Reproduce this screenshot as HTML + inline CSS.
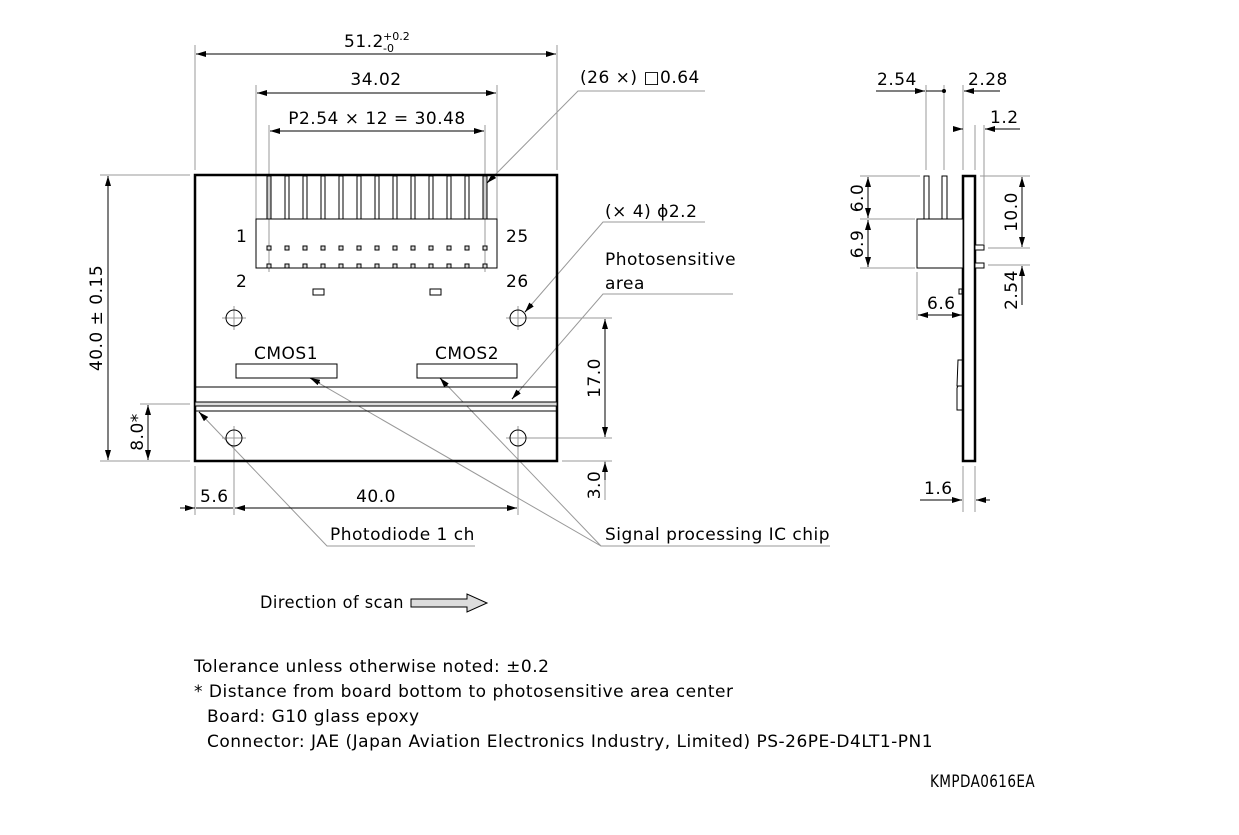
<!DOCTYPE html>
<html><head><meta charset="utf-8"><style>
html,body{margin:0;padding:0;background:#fff;}
svg{display:block;font-family:"DejaVu Sans","Liberation Sans",sans-serif;}
text{font-size:17px;fill:#000;letter-spacing:0.5px;}
</style></head><body>
<svg width="1239" height="835" viewBox="0 0 1239 835" xmlns="http://www.w3.org/2000/svg">
<defs>
<marker id="a" viewBox="0 0 10 6" refX="10" refY="3" markerWidth="10" markerHeight="6" orient="auto-start-reverse" markerUnits="userSpaceOnUse"><path d="M0,0 L10,3 L0,6 z" fill="#000"/></marker>
</defs>
<g stroke="#999" stroke-width="1" fill="none">
<line x1="195" y1="45" x2="195" y2="170"/><line x1="557" y1="45" x2="557" y2="170"/>
<line x1="256" y1="85" x2="256" y2="219"/><line x1="497" y1="85" x2="497" y2="219"/>
<line x1="269" y1="125" x2="269" y2="272"/><line x1="485" y1="125" x2="485" y2="272"/>
<line x1="100" y1="175" x2="190" y2="175"/><line x1="100" y1="461" x2="190" y2="461"/>
<line x1="140" y1="404" x2="190" y2="404"/>
<line x1="195" y1="466" x2="195" y2="515"/><line x1="234" y1="430" x2="234" y2="515"/><line x1="518" y1="430" x2="518" y2="515"/>
<line x1="526" y1="318" x2="612" y2="318"/><line x1="526" y1="438" x2="612" y2="438"/><line x1="562" y1="461" x2="612" y2="461"/>
<line x1="605" y1="461" x2="605" y2="500"/>
<line x1="222" y1="318" x2="246" y2="318"/><line x1="234" y1="306" x2="234" y2="330"/>
<line x1="506" y1="318" x2="530" y2="318"/><line x1="518" y1="306" x2="518" y2="330"/>
<line x1="222" y1="438" x2="246" y2="438"/><line x1="234" y1="426" x2="234" y2="450"/>
<line x1="506" y1="438" x2="530" y2="438"/><line x1="518" y1="426" x2="518" y2="450"/>
<polyline points="705,91 578,91 487,183"/>
<polyline points="705,222 603,222 525,312"/>
<polyline points="733,294 603,294 512,399"/>
<polyline points="475,546 327,546 199,412"/>
<polyline points="830,546 601,546 310,378"/>
<line x1="601" y1="546" x2="440" y2="378"/>
<line x1="926" y1="85" x2="926" y2="170"/><line x1="944" y1="85" x2="944" y2="170"/><line x1="963" y1="85" x2="963" y2="170"/>
<line x1="975" y1="125" x2="975" y2="170"/><line x1="984" y1="125" x2="984" y2="244"/>
<line x1="860" y1="176" x2="920" y2="176"/><line x1="860" y1="219" x2="915" y2="219"/><line x1="860" y1="268" x2="915" y2="268"/>
<line x1="980" y1="176" x2="1030" y2="176"/><line x1="988" y1="248" x2="1030" y2="248"/><line x1="988" y1="265" x2="1030" y2="265"/>
<line x1="917" y1="272" x2="917" y2="320"/>
<line x1="963" y1="466" x2="963" y2="512"/><line x1="975" y1="466" x2="975" y2="512"/>
</g>
<g stroke="#000" stroke-width="1" fill="none">
<line x1="196" y1="54" x2="556" y2="54" marker-start="url(#a)" marker-end="url(#a)"/>
<line x1="257" y1="93" x2="496" y2="93" marker-start="url(#a)" marker-end="url(#a)"/>
<line x1="270" y1="131" x2="484" y2="131" marker-start="url(#a)" marker-end="url(#a)"/>
<line x1="108" y1="176" x2="108" y2="460" marker-start="url(#a)" marker-end="url(#a)"/>
<line x1="148" y1="405" x2="148" y2="460" marker-start="url(#a)" marker-end="url(#a)"/>
<line x1="180" y1="508" x2="195" y2="508" marker-end="url(#a)"/>
<line x1="196" y1="508" x2="233" y2="508"/>
<line x1="235" y1="508" x2="517" y2="508" marker-start="url(#a)" marker-end="url(#a)"/>
<line x1="605" y1="319" x2="605" y2="437" marker-start="url(#a)" marker-end="url(#a)"/>
<line x1="605" y1="480" x2="605" y2="462" marker-end="url(#a)"/>
<line x1="876" y1="91" x2="925" y2="91" marker-end="url(#a)"/>
<line x1="926" y1="91" x2="944" y2="91"/>
<line x1="1000" y1="91" x2="964" y2="91" marker-end="url(#a)"/>
<line x1="955" y1="129" x2="963" y2="129" marker-end="url(#a)"/>
<line x1="1020" y1="129" x2="985" y2="129" marker-end="url(#a)"/>
<line x1="868" y1="177" x2="868" y2="218" marker-start="url(#a)" marker-end="url(#a)"/>
<line x1="868" y1="220" x2="868" y2="267" marker-start="url(#a)" marker-end="url(#a)"/>
<line x1="1022" y1="177" x2="1022" y2="247" marker-start="url(#a)" marker-end="url(#a)"/>
<line x1="1022" y1="305" x2="1022" y2="266" marker-end="url(#a)"/>
<line x1="918" y1="315" x2="962" y2="315" marker-start="url(#a)" marker-end="url(#a)"/>
<line x1="920" y1="500" x2="962" y2="500" marker-end="url(#a)"/>
<line x1="990" y1="500" x2="976" y2="500" marker-end="url(#a)"/>
<line x1="495" y1="175" x2="487" y2="183" marker-end="url(#a)"/>
<line x1="532" y1="304" x2="525" y2="312" marker-end="url(#a)"/>
<line x1="519" y1="391" x2="512" y2="399" marker-end="url(#a)"/>
<line x1="206" y1="419" x2="199" y2="412" marker-end="url(#a)"/>
<line x1="320" y1="383" x2="310" y2="378" marker-end="url(#a)"/>
<line x1="447" y1="386" x2="440" y2="378" marker-end="url(#a)"/>
</g>
<circle cx="944" cy="91" r="2" fill="#000"/>
<g stroke="#000" fill="none">
<rect x="195" y="175" width="362" height="286" stroke-width="2.5"/>
<rect x="256" y="219" width="241" height="49" stroke-width="1"/>
<line x1="195" y1="387" x2="557" y2="387" stroke-width="1"/>
<rect x="195" y="402" width="362" height="4" fill="#ddd" stroke-width="1"/>
<line x1="195" y1="411" x2="557" y2="411" stroke-width="1"/>
<rect x="313" y="289" width="11" height="6" stroke-width="1"/>
<rect x="430" y="289" width="11" height="6" stroke-width="1"/>
<rect x="236" y="364" width="101" height="14" stroke-width="1"/>
<rect x="417" y="364" width="100" height="14" stroke-width="1"/>
<circle cx="234" cy="318" r="8"/><circle cx="518" cy="318" r="8"/>
<circle cx="234" cy="438" r="8"/><circle cx="518" cy="438" r="8"/>
</g>
<g stroke="#000" stroke-width="1" fill="#ccc">
<rect x="267" y="176" width="4" height="43"/><rect x="285" y="176" width="4" height="43" fill="#fff"/><rect x="303" y="176" width="4" height="43" fill="#fff"/><rect x="321" y="176" width="4" height="43" fill="#fff"/><rect x="339" y="176" width="4" height="43" fill="#fff"/><rect x="357" y="176" width="4" height="43" fill="#fff"/><rect x="375" y="176" width="4" height="43" fill="#fff"/><rect x="393" y="176" width="4" height="43" fill="#fff"/><rect x="411" y="176" width="4" height="43" fill="#fff"/><rect x="429" y="176" width="4" height="43" fill="#fff"/><rect x="447" y="176" width="4" height="43" fill="#fff"/><rect x="465" y="176" width="4" height="43" fill="#fff"/><rect x="483" y="176" width="4" height="43"/>
</g>
<g stroke="#000" stroke-width="1" fill="#ddd">
<rect x="267" y="246" width="4" height="4"/><rect x="285" y="246" width="4" height="4"/><rect x="303" y="246" width="4" height="4"/><rect x="321" y="246" width="4" height="4"/><rect x="339" y="246" width="4" height="4"/><rect x="357" y="246" width="4" height="4"/><rect x="375" y="246" width="4" height="4"/><rect x="393" y="246" width="4" height="4"/><rect x="411" y="246" width="4" height="4"/><rect x="429" y="246" width="4" height="4"/><rect x="447" y="246" width="4" height="4"/><rect x="465" y="246" width="4" height="4"/><rect x="483" y="246" width="4" height="4"/>
<rect x="267" y="264" width="4" height="4"/><rect x="285" y="264" width="4" height="4"/><rect x="303" y="264" width="4" height="4"/><rect x="321" y="264" width="4" height="4"/><rect x="339" y="264" width="4" height="4"/><rect x="357" y="264" width="4" height="4"/><rect x="375" y="264" width="4" height="4"/><rect x="393" y="264" width="4" height="4"/><rect x="411" y="264" width="4" height="4"/><rect x="429" y="264" width="4" height="4"/><rect x="447" y="264" width="4" height="4"/><rect x="465" y="264" width="4" height="4"/><rect x="483" y="264" width="4" height="4"/>
</g>
<g stroke="#000" fill="#fff">
<rect x="963" y="176" width="12" height="285" stroke-width="2.5"/>
<rect x="917" y="219" width="46" height="49" stroke-width="1"/>
<rect x="924" y="176" width="5" height="43" stroke-width="1"/>
<rect x="942" y="176" width="5" height="43" stroke-width="1"/>
<rect x="975" y="245" width="9" height="5" stroke-width="1"/>
<rect x="975" y="263" width="9" height="5" stroke-width="1"/>
<rect x="959" y="289" width="3" height="5" stroke-width="1"/>
<path d="M962,360 L958,360 L957,386 L962,386 M958,386 L957,388 L957,410 L962,410" stroke-width="1" fill="none"/>
</g>
<path d="M411,599 L467,599 L467,594 L487,603 L467,612 L467,607 L411,607 z" fill="#ddd" stroke="#000" stroke-width="1"/>
<text x="344" y="47">51.2</text><text x="383" y="40" style="font-size:11px;letter-spacing:0">+0.2</text><text x="383" y="52" style="font-size:11px;letter-spacing:0">-0</text>
<text x="376" y="85" text-anchor="middle">34.02</text>
<text x="377" y="124" text-anchor="middle">P2.54 × 12 = 30.48</text>
<text x="580" y="83">(26 ×) □0.64</text>
<text x="605" y="217">(× 4) ϕ2.2</text>
<text x="605" y="265">Photosensitive</text>
<text x="605" y="289">area</text>
<text x="236" y="242">1</text><text x="506" y="242">25</text>
<text x="236" y="287">2</text><text x="506" y="287">26</text>
<text x="286" y="359" text-anchor="middle">CMOS1</text>
<text x="467" y="359" text-anchor="middle">CMOS2</text>
<text transform="translate(102,318) rotate(-90)" text-anchor="middle">40.0 ± 0.15</text>
<text transform="translate(143,432) rotate(-90)" text-anchor="middle">8.0*</text>
<text transform="translate(600,378) rotate(-90)" text-anchor="middle">17.0</text>
<text transform="translate(600,485) rotate(-90)" text-anchor="middle">3.0</text>
<text x="200" y="502">5.6</text>
<text x="376" y="502" text-anchor="middle">40.0</text>
<text x="330" y="540">Photodiode 1 ch</text>
<text x="605" y="540">Signal processing IC chip</text>
<text x="877" y="85">2.54</text><text x="968" y="85">2.28</text>
<text x="990" y="123">1.2</text>
<text transform="translate(863,198) rotate(-90)" text-anchor="middle">6.0</text>
<text transform="translate(863,244) rotate(-90)" text-anchor="middle">6.9</text>
<text transform="translate(1017,212) rotate(-90)" text-anchor="middle">10.0</text>
<text transform="translate(1017,290) rotate(-90)" text-anchor="middle">2.54</text>
<text x="927" y="309">6.6</text>
<text x="924" y="494">1.6</text>
<text x="260" y="608" textLength="144" lengthAdjust="spacingAndGlyphs">Direction of scan</text>
<text x="194" y="672">Tolerance unless otherwise noted: ±0.2</text>
<text x="194" y="697">* Distance from board bottom to photosensitive area center</text>
<text x="207" y="722">Board: G10 glass epoxy</text>
<text x="207" y="747">Connector: JAE (Japan Aviation Electronics Industry, Limited) PS-26PE-D4LT1-PN1</text>
<text x="930" y="787" textLength="105" lengthAdjust="spacingAndGlyphs">KMPDA0616EA</text>
</svg>
</body></html>
